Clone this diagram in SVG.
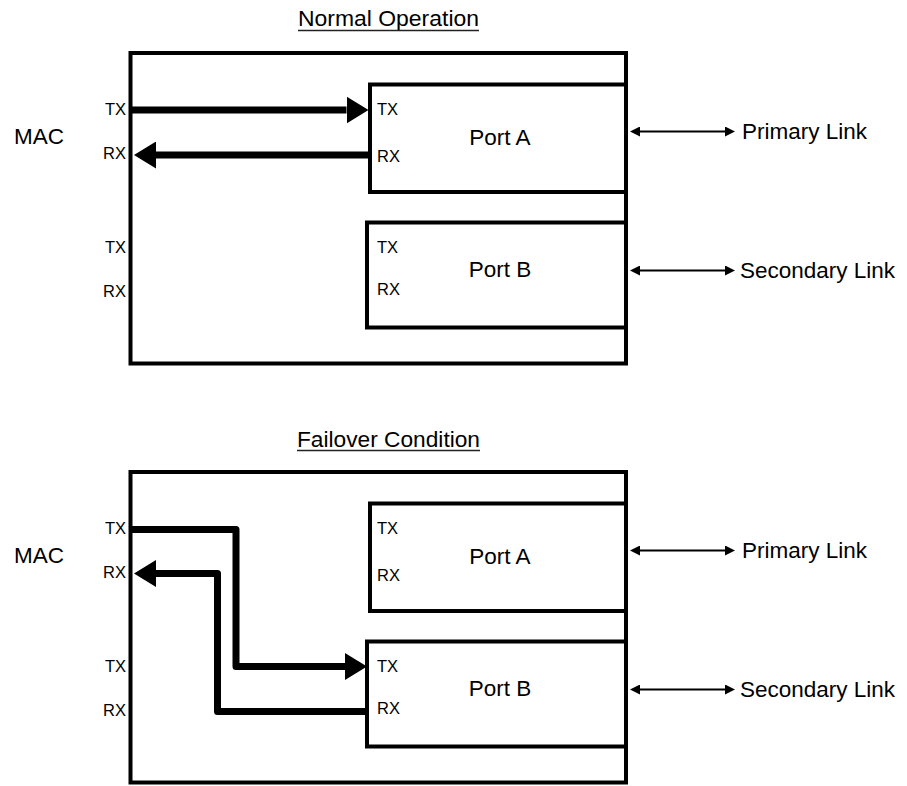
<svg xmlns="http://www.w3.org/2000/svg" width="907" height="786" viewBox="0 0 907 786">
  <style>
    .box { fill: #fff; stroke: #000; stroke-width: 4; }
    .port { fill: #fff; stroke: #000; stroke-width: 4; }
    .big { font-family: "Liberation Sans", Arial, sans-serif; font-size: 22.5px; fill: #000; }
    .small { font-family: "Liberation Sans", Arial, sans-serif; font-size: 16.5px; fill: #000; }
    .title { font-family: "Liberation Sans", Arial, sans-serif; font-size: 22px; fill: #000; }
    .uline { stroke: #222; stroke-width: 1.6; }
    .bus { fill: none; stroke: #000; stroke-width: 7; stroke-linejoin: round; marker-end: url(#bigHead); }
    .link { fill: none; stroke: #000; stroke-width: 2; marker-start: url(#smallHeadStart); marker-end: url(#smallHead); }
  </style>
  <defs>
    <marker id="bigHead" viewBox="0 0 22 27" refX="0" refY="13.5" markerWidth="22" markerHeight="27" markerUnits="userSpaceOnUse" orient="auto">
      <path d="M0,0 L22,13.5 L0,27 Z" fill="#000"/>
    </marker>
    <marker id="smallHead" viewBox="0 0 10 10" refX="0" refY="5" markerWidth="10" markerHeight="10" markerUnits="userSpaceOnUse" orient="auto">
      <path d="M0,0 L10,5 L0,10 Z" fill="#000"/>
    </marker>
    <marker id="smallHeadStart" viewBox="0 0 10 10" refX="10" refY="5" markerWidth="10" markerHeight="10" markerUnits="userSpaceOnUse" orient="auto">
      <path d="M10,0 L0,5 L10,10 Z" fill="#000"/>
    </marker>
  </defs>

  <!-- ===== Normal Operation ===== -->
  <g id="title-normal">
    <text class="title" x="298" y="26" textLength="181" lengthAdjust="spacingAndGlyphs">Normal Operation</text>
    <line class="uline" x1="298" y1="30.5" x2="479" y2="30.5"/>
  </g>
  <g id="mac-normal">
    <rect class="box" x="130.5" y="53" width="495.5" height="310.5"/>
    <text class="big" x="14" y="143.5">MAC</text>
    <text class="small" x="126" y="115" text-anchor="end">TX</text>
    <text class="small" x="126" y="159" text-anchor="end">RX</text>
    <text class="small" x="126" y="252.5" text-anchor="end">TX</text>
    <text class="small" x="126" y="297" text-anchor="end">RX</text>
  </g>
  <g id="portA-normal">
    <rect class="port" x="370" y="84.5" width="256" height="107.5"/>
    <text class="small" x="377" y="115">TX</text>
    <text class="small" x="377" y="161.5">RX</text>
    <text class="big" x="500" y="145" text-anchor="middle">Port A</text>
  </g>
  <g id="portB-normal">
    <rect class="port" x="367" y="222.5" width="259" height="105"/>
    <text class="small" x="377" y="252.5">TX</text>
    <text class="small" x="377" y="295">RX</text>
    <text class="big" x="500" y="277" text-anchor="middle">Port B</text>
  </g>
  <g id="primary-normal">
    <text class="big" x="742" y="138.5">Primary Link</text>
  </g>
  <g id="secondary-normal">
    <text class="big" x="740" y="278">Secondary Link</text>
  </g>

  <!-- ===== Failover Condition ===== -->
  <g id="title-failover">
    <text class="title" x="297" y="446.5" textLength="183" lengthAdjust="spacingAndGlyphs">Failover Condition</text>
    <line class="uline" x1="297" y1="450.5" x2="480" y2="450.5"/>
  </g>
  <g id="mac-failover">
    <rect class="box" x="130.5" y="472" width="495.5" height="310.5"/>
    <text class="big" x="14" y="562.5">MAC</text>
    <text class="small" x="126" y="534" text-anchor="end">TX</text>
    <text class="small" x="126" y="578" text-anchor="end">RX</text>
    <text class="small" x="126" y="671.5" text-anchor="end">TX</text>
    <text class="small" x="126" y="716" text-anchor="end">RX</text>
  </g>
  <g id="portA-failover">
    <rect class="port" x="370" y="503.5" width="256" height="107.5"/>
    <text class="small" x="377" y="534">TX</text>
    <text class="small" x="377" y="580.5">RX</text>
    <text class="big" x="500" y="564" text-anchor="middle">Port A</text>
  </g>
  <g id="portB-failover">
    <rect class="port" x="367" y="641.5" width="259" height="105"/>
    <text class="small" x="377" y="671.5">TX</text>
    <text class="small" x="377" y="714">RX</text>
    <text class="big" x="500" y="696" text-anchor="middle">Port B</text>
  </g>
  <g id="primary-failover">
    <text class="big" x="742" y="557.5">Primary Link</text>
  </g>
  <g id="secondary-failover">
    <text class="big" x="740" y="697">Secondary Link</text>
  </g>

  <!-- ===== Connectors ===== -->
  <g id="connectors">
    <path class="bus" d="M132,110 H346.5"/>
    <path class="bus" d="M368,155 H156"/>
    <path class="link" d="M640,131.5 H725"/>
    <path class="link" d="M640,270.5 H725"/>

    <path class="bus" d="M132,529.5 H236 V666.5 H345"/>
    <path class="bus" d="M366,711.5 H217.5 V573.5 H156"/>
    <path class="link" d="M640,550.5 H725"/>
    <path class="link" d="M640,689.5 H725"/>
  </g>
</svg>
